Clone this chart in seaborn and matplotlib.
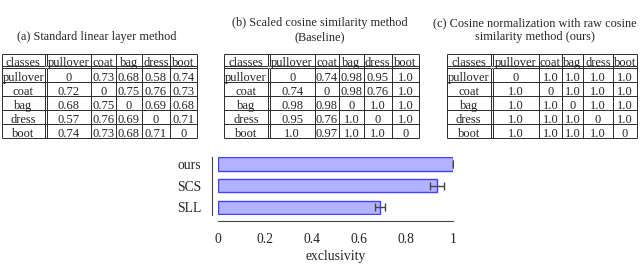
import matplotlib

matplotlib.use("Agg")
import matplotlib.pyplot as plt
import pandas as pd
import seaborn as sns

# ---- data ----
classes = ["pullover", "coat", "bag", "dress", "boot"]

sll_matrix = [
    ["0", "0.73", "0.68", "0.58", "0.74"],
    ["0.72", "0", "0.75", "0.76", "0.73"],
    ["0.68", "0.75", "0", "0.69", "0.68"],
    ["0.57", "0.76", "0.69", "0", "0.71"],
    ["0.74", "0.73", "0.68", "0.71", "0"],
]
scs_matrix = [
    ["0", "0.74", "0.98", "0.95", "1.0"],
    ["0.74", "0", "0.98", "0.76", "1.0"],
    ["0.98", "0.98", "0", "1.0", "1.0"],
    ["0.95", "0.76", "1.0", "0", "1.0"],
    ["1.0", "0.97", "1.0", "1.0", "0"],
]
ours_matrix = [
    ["0", "1.0", "1.0", "1.0", "1.0"],
    ["1.0", "0", "1.0", "1.0", "1.0"],
    ["1.0", "1.0", "0", "1.0", "1.0"],
    ["1.0", "1.0", "1.0", "0", "1.0"],
    ["1.0", "1.0", "1.0", "1.0", "0"],
]

table_titles = [
    "(a) Standard linear layer method",
    "(b) Scaled cosine similarity method\n(Baseline)",
    "(c) Cosine normalization with raw cosine\nsimilarity method (ours)",
]

methods = ["ours", "SCS", "SLL"]
exclusivity = [1.0, 0.93, 0.69]
exclusivity_err = [0.002, 0.03, 0.02]
x_ticks = [0, 0.2, 0.4, 0.6, 0.8, 1.0]
x_tick_labels = ["0", "0.2", "0.4", "0.6", "0.8", "1"]

# ---- layout (pixel units of a 640x264 canvas) ----
W, H = 640, 264
LINE = "#2a2a2a"
FS = 9.0

# left edge, column widths, title centre
table_specs = [
    (1.7, [43.3, 44.0, 25.3, 25.7, 28.3, 26.7], 97),
    (224.0, [44.0, 44.7, 24.3, 25.0, 28.0, 27.0], 320),
    (446.7, [44.0, 46.6, 22.4, 21.6, 30.0, 24.0], 535),
]
matrices = [sll_matrix, scs_matrix, ours_matrix]


def draw_table(ax, x0, widths, matrix, title, title_x):
    top, head_bot, gap, row_h = 54.0, 66.0, 2.0, 14.0
    dgap = 1.8
    # column edges, with a double rule after the first column
    edges = [x0, x0 + widths[0]]
    xs = [x0 + widths[0] + dgap]
    for w in widths[1:]:
        xs.append(xs[-1] + w)
    right = xs[-1]
    body_top = head_bot + gap
    bottom = body_top + row_h * len(matrix)

    # horizontal rules
    ax.hlines([top, head_bot, body_top], x0, right, color=LINE, lw=0.7)
    row_lines = [body_top + row_h * (i + 1) for i in range(len(matrix))]
    ax.hlines(row_lines, x0, right, color=LINE, lw=0.7)
    # vertical rules
    ax.vlines([x0, edges[1]] + xs, top, bottom, color=LINE, lw=0.7)
    ax.vlines([edges[1], xs[0]], head_bot, body_top, color="white", lw=0.9)

    centers = [(x0 + edges[1]) / 2] + [(xs[i] + xs[i + 1]) / 2 for i in range(len(xs) - 1)]
    header = ["classes"] + classes
    for cx, label in zip(centers, header):
        ax.text(cx, (top + head_bot) / 2 + 1.3, label, ha="center", va="center_baseline",
                fontsize=FS)
    for r, (name, vals) in enumerate(zip(classes, matrix)):
        cy = body_top + row_h * (r + 0.5) + 1.3
        for cx, label in zip(centers, [name] + vals):
            ax.text(cx, cy, label, ha="center", va="center_baseline", fontsize=FS)

    ax.text(title_x, 43, title, ha="center", va="bottom", fontsize=8.8, linespacing=1.2)


def main() -> None:
    sns.set_theme(style="white")
    plt.rcParams["font.family"] = ["Liberation Serif", "DejaVu Serif"]

    fig = plt.figure(figsize=(6.4, 2.64), dpi=100)

    canvas = fig.add_axes([0, 0, 1, 1])
    canvas.set_xlim(0, W)
    canvas.set_ylim(H, 0)
    canvas.axis("off")
    for (x0, widths, title_x), matrix, title in zip(table_specs, matrices, table_titles):
        draw_table(canvas, x0, widths, matrix, title, title_x)

    bars = pd.DataFrame({"method": methods, "exclusivity": exclusivity, "err": exclusivity_err})
    ax = fig.add_axes([218 / W, 1 - 215 / H, 235 / W, 58 / H])
    sns.barplot(
        data=bars,
        x="exclusivity",
        y="method",
        orient="h",
        color="#b3b3ff",
        saturation=1,
        edgecolor="#4040ff",
        linewidth=1.0,
        width=0.62,
        errorbar=None,
        ax=ax,
    )
    ax.errorbar(
        bars["exclusivity"],
        range(len(bars)),
        xerr=bars["err"],
        fmt="none",
        ecolor="#444444",
        elinewidth=1.0,
        capsize=3.2,
        capthick=1.0,
    )
    ax.set_xlim(0, 1)
    ax.set_ylim(2.35, -0.32)
    ax.set_xticks(x_ticks)
    ax.set_xticklabels(x_tick_labels)
    ax.set_xlabel("exclusivity", fontsize=9.8, labelpad=3)
    ax.set_ylabel("")
    ax.tick_params(axis="both", direction="inout", length=5, width=0.7, color="#555555",
                   labelsize=9.8)
    ax.tick_params(axis="x", pad=6)
    ax.tick_params(axis="y", pad=5)
    sns.despine(ax=ax, offset=4.5)
    for side in ("left", "bottom"):
        ax.spines[side].set_color("#444444")
        ax.spines[side].set_linewidth(0.8)

    fig.savefig("out.png", dpi=100)
    plt.close(fig)


if __name__ == "__main__":
    main()
